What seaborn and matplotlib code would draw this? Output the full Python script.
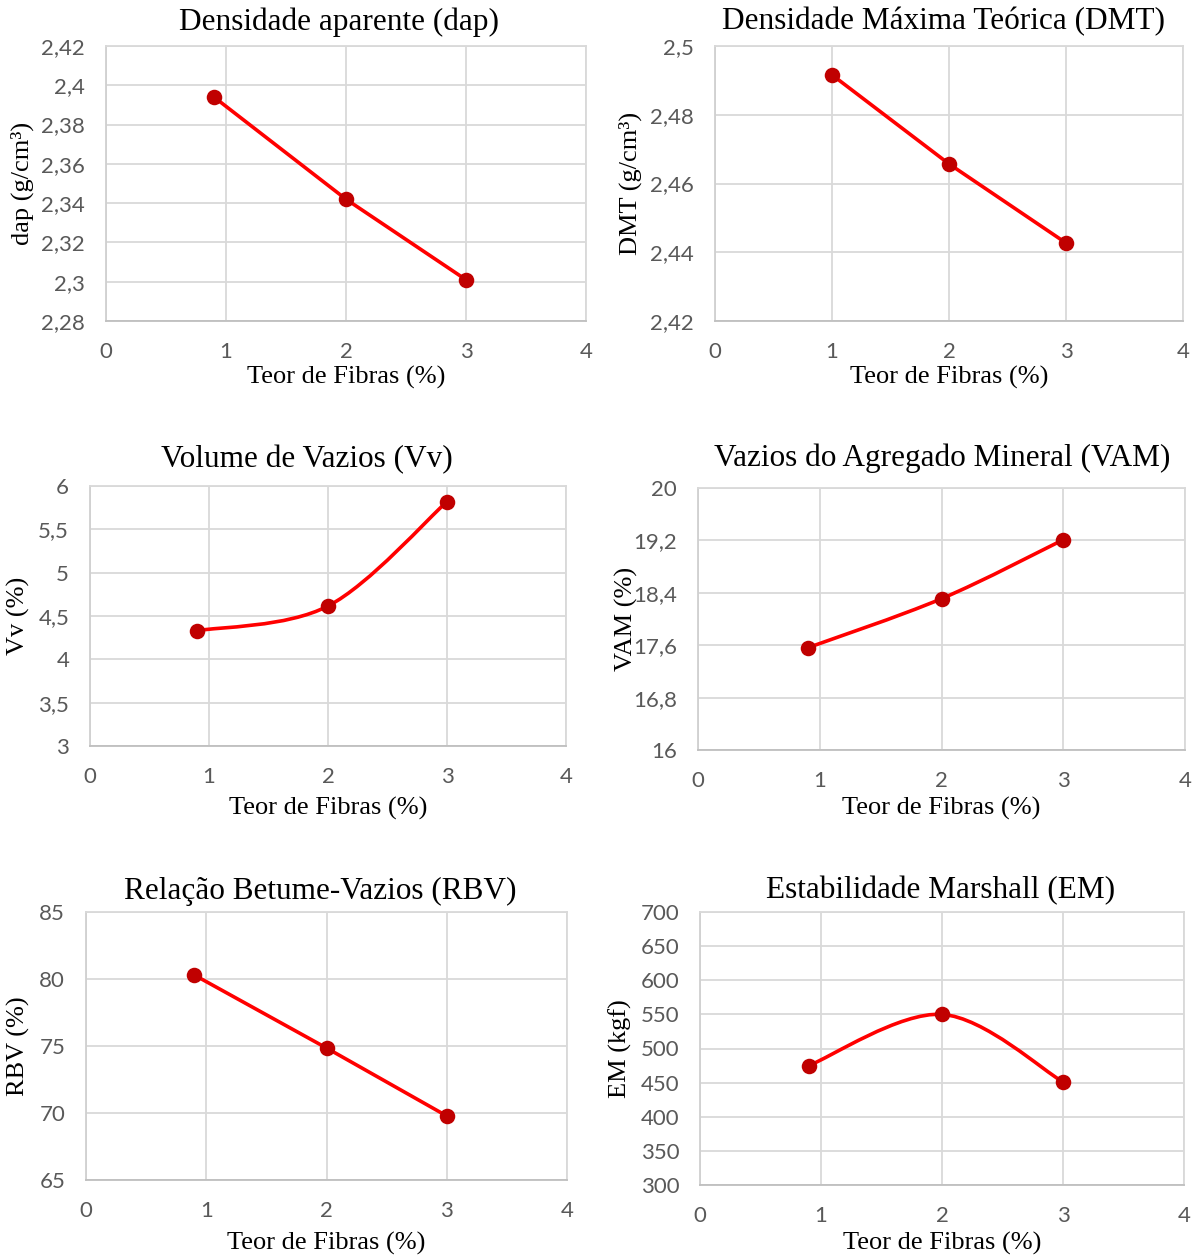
import matplotlib
matplotlib.use("Agg")
import matplotlib.pyplot as plt
from matplotlib.path import Path
from matplotlib.patches import PathPatch
from matplotlib.ticker import FuncFormatter, FixedLocator
import numpy as np
import pandas as pd
import seaborn as sns

# ---------------- data ----------------
teor = [0.9, 2, 3]
teor_dmt = [1, 2, 3]
dap = [2.394, 2.342, 2.301]
dmt = [2.4916, 2.4657, 2.4427]
vv = [4.33, 4.615, 5.82]
vam = [17.56, 18.31, 19.21]
rbv = [80.3, 74.85, 69.78]
em = [475, 550, 451]

x_ticks = [0, 1, 2, 3, 4]
xlabel = "Teor de Fibras (%)"

sns.set_theme(style="white")
plt.rcParams["font.family"] = ["Lato", "DejaVu Sans"]
SERIF = ["Liberation Serif", "DejaVu Serif"]

W, H = 1200, 1259
fig = plt.figure(figsize=(W / 100, H / 100), dpi=100)
fig.patch.set_facecolor("white")

LINE_C = "#FF0000"
MARK_C = "#C00000"
GRID_C = "#D9D9D9"
TICK_C = "#595959"


def smooth_path(xs, ys):
    # Excel-style smoothed line built as cubic Bezier segments
    pts = list(zip(xs, ys))
    n = len(pts)
    verts = [pts[0]]
    codes = [Path.MOVETO]
    for i in range(n - 1):
        p0 = np.array(pts[i - 1] if i > 0 else pts[i])
        p1 = np.array(pts[i])
        p2 = np.array(pts[i + 1])
        p3 = np.array(pts[i + 2] if i + 2 < n else pts[i + 1])
        c1 = p1 + (p2 - p0) / 6.0
        c2 = p2 - (p3 - p1) / 6.0
        verts += [tuple(c1), tuple(c2), tuple(p2)]
        codes += [Path.CURVE4] * 3
    return Path(verts, codes)


def fmt(v, pos):
    return f"{round(v, 4):g}".replace(".", ",")


panels = [
    dict(box=(106, 586, 46, 321), x=teor, y=dap, ylim=(2.28, 2.42),
         yticks=[2.28, 2.30, 2.32, 2.34, 2.36, 2.38, 2.40, 2.42],
         title="Densidade aparente (dap)", tpos=(339, 22),
         ylabel="dap (g/cm³)", ylx=-0.175, xly=-0.205, smooth=False),
    dict(box=(715, 1183, 46, 321), x=teor_dmt, y=dmt, ylim=(2.42, 2.50),
         yticks=[2.42, 2.44, 2.46, 2.48, 2.50],
         title="Densidade Máxima Teórica (DMT)", tpos=(944, 22),
         ylabel="DMT (g/cm³)", ylx=-0.182, xly=-0.205, smooth=False),
    dict(box=(90, 566, 486, 746), x=teor, y=vv, ylim=(3, 6),
         yticks=[3, 3.5, 4, 4.5, 5, 5.5, 6],
         title="Volume de Vazios (Vv)", tpos=(307, 460),
         ylabel="Vv (%)", ylx=-0.151, xly=-0.24, smooth=True),
    dict(box=(698, 1185, 488, 750), x=teor, y=vam, ylim=(16, 20),
         yticks=[16, 16.8, 17.6, 18.4, 19.2, 20],
         title="Vazios do Agregado Mineral (VAM)", tpos=(942, 458),
         ylabel="VAM (%)", ylx=-0.146, xly=-0.223, smooth=True),
    dict(box=(86, 567, 912, 1180), x=teor, y=rbv, ylim=(65, 85),
         yticks=[65, 70, 75, 80, 85],
         title="Relação Betume-Vazios (RBV)", tpos=(320, 891),
         ylabel="RBV (%)", ylx=-0.141, xly=-0.236, smooth=False),
    dict(box=(700, 1184, 912, 1185), x=teor, y=em, ylim=(300, 700),
         yticks=[300, 350, 400, 450, 500, 550, 600, 650, 700],
         title="Estabilidade Marshall (EM)", tpos=(941, 891),
         ylabel="EM (kgf)", ylx=-0.165, xly=-0.213, smooth=True),
]

for p in panels:
    l, r, t, b = p["box"]
    ax = fig.add_axes([l / W, 1 - b / H, (r - l) / W, (b - t) / H])
    ax.set_facecolor("white")
    ax.set_xlim(0, 4)
    ax.set_ylim(*p["ylim"])
    ax.xaxis.set_major_locator(FixedLocator(x_ticks))
    ax.yaxis.set_major_locator(FixedLocator(p["yticks"]))
    ax.yaxis.set_major_formatter(FuncFormatter(fmt))
    ax.grid(True, color=GRID_C, linewidth=1.3)
    ax.set_axisbelow(True)
    for s in ax.spines.values():
        s.set_color(GRID_C)
        s.set_linewidth(1.3)
    ax.spines["bottom"].set_color("#BFBFBF")
    ax.spines["left"].set_color("#D0D0D0")
    ax.tick_params(axis="both", length=0, pad=15, labelsize=16, labelcolor=TICK_C)

    df = pd.DataFrame({"x": p["x"], "y": p["y"]})
    if p["smooth"]:
        patch = PathPatch(smooth_path(p["x"], p["y"]), facecolor="none",
                          edgecolor=LINE_C, linewidth=2.6, zorder=2,
                          transform=ax.transData, capstyle="round")
        ax.add_patch(patch)
    else:
        sns.lineplot(data=df, x="x", y="y", ax=ax, color=LINE_C,
                     linewidth=2.6, zorder=2, sort=False)
    sns.scatterplot(data=df, x="x", y="y", ax=ax, color=MARK_C, s=125,
                    edgecolor=MARK_C, linewidth=0, zorder=3)

    ax.set_xlabel(xlabel, fontsize=19, family=SERIF, color="black", va="center")
    ax.xaxis.set_label_coords(0.5, p["xly"])
    ax.set_ylabel(p["ylabel"], fontsize=19, family=SERIF, color="black", va="center")
    ax.yaxis.set_label_coords(p["ylx"], 0.5)

    tx, ty = p["tpos"]
    fig.text(tx / W, 1 - ty / H, p["title"], ha="center", va="center",
             fontsize=22.5, family=SERIF, color="black")

fig.savefig("out.png", dpi=100, facecolor="white")
